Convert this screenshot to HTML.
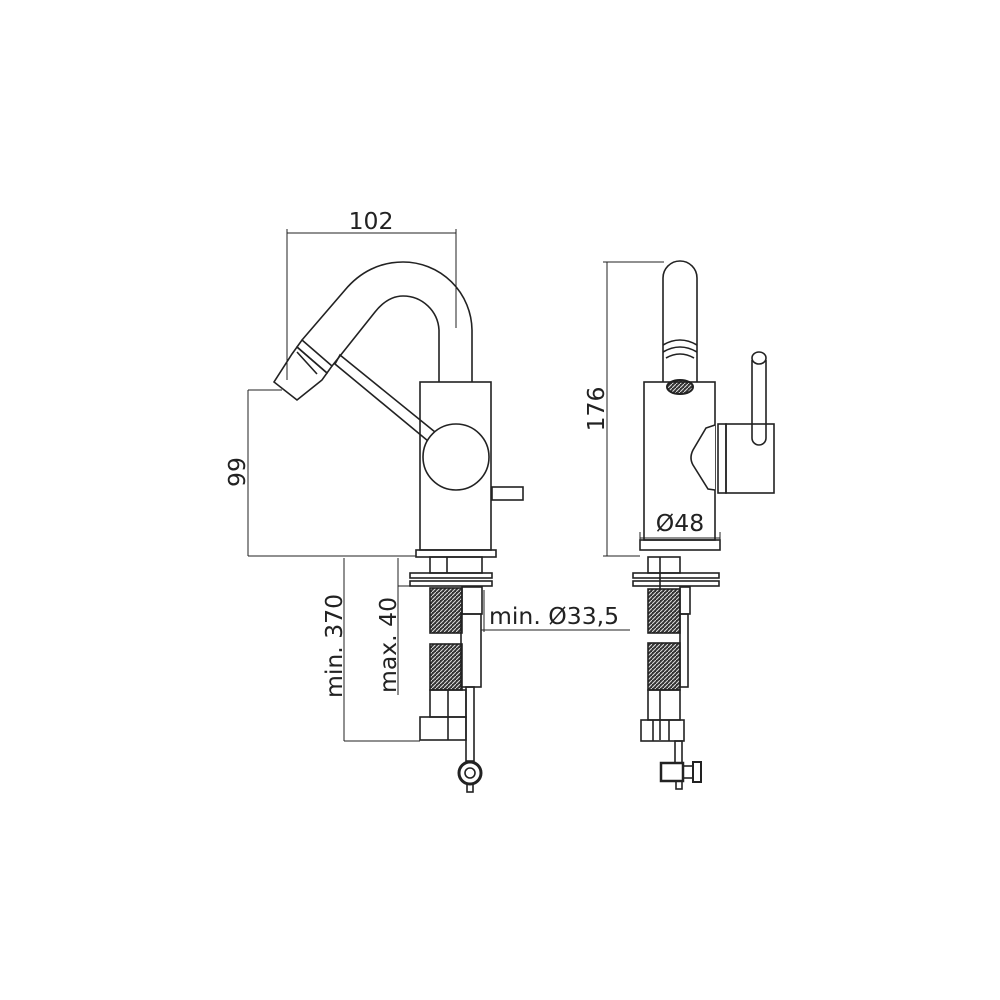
<!DOCTYPE html>
<html><head><meta charset="utf-8"><style>html,body{margin:0;padding:0;background:#fff}svg{display:block}</style></head><body>
<svg width="1000" height="1000" viewBox="0 0 1000 1000" xmlns="http://www.w3.org/2000/svg" font-family="'DejaVu Sans','Liberation Sans',sans-serif">
<defs>
<pattern id="h" width="4" height="4" patternUnits="userSpaceOnUse"><rect width="4" height="4" fill="#333"/><path d="M0 4L4 0" stroke="#ddd" stroke-width="1"/></pattern>
</defs>
<g fill="none" stroke="#222" stroke-width="1.6">
<line x1="287" y1="233" x2="456" y2="233" stroke-width="1"/>
<line x1="287" y1="229" x2="287" y2="380" stroke-width="1"/>
<line x1="456" y1="229" x2="456" y2="328" stroke-width="1"/>
<path d="M472 382 L472 330 A69 69 0 0 0 403 262 C380 262 360 272 345 290 L302 340"/>
<path d="M439 382 L439 330 A36 36 0 0 0 403 296 C392 296 383 302 375 312 L332 366"/>
<polygon points="302,340 332,366 327,373 297,347"/>
<polygon points="297,347 327,373 322,380 297,400 274,382 292,354"/>
<line x1="297" y1="352" x2="317" y2="374"/>
<polygon points="340,355 435,432 428,441 335,364"/>
<rect x="420" y="382" width="71" height="168"/>
<circle cx="456" cy="457" r="33" fill="#fff"/>
<rect x="492" y="487" width="31" height="13"/>
<rect x="416" y="550" width="80" height="7"/>
<line x1="248" y1="390" x2="248" y2="556" stroke-width="1"/>
<line x1="248" y1="390" x2="282" y2="390" stroke-width="1"/>
<line x1="248" y1="556" x2="416" y2="556" stroke-width="1"/>
<line x1="344" y1="558" x2="344" y2="741" stroke-width="1"/>
<line x1="344" y1="741" x2="420" y2="741" stroke-width="1"/>
<line x1="398" y1="558" x2="398" y2="695" stroke-width="1"/>
<line x1="398" y1="586" x2="412" y2="586" stroke-width="1"/>
<line x1="481" y1="630" x2="630" y2="630" stroke-width="1"/>
<line x1="484" y1="590" x2="484" y2="632" stroke-width="1"/>
<rect x="430" y="557" width="52" height="16"/>
<line x1="447" y1="557" x2="447" y2="573"/>
<rect x="410" y="573" width="82" height="5"/>
<rect x="410" y="581" width="82" height="5"/>
<rect x="430" y="588" width="32" height="45" fill="url(#h)"/>
<rect x="430" y="644" width="32" height="46" fill="url(#h)"/>
<rect x="462" y="587" width="20" height="27"/>
<rect x="461" y="614" width="20" height="73"/>
<rect x="430" y="690" width="36" height="27"/>
<line x1="448" y1="690" x2="448" y2="740"/>
<rect x="420" y="717" width="46" height="23"/>
<rect x="466" y="687" width="8" height="74"/>
<circle cx="470" cy="773" r="11" stroke-width="3"/>
<circle cx="470" cy="773" r="5"/>
<rect x="467" y="784" width="6" height="8"/>
<line x1="607" y1="262" x2="607" y2="556" stroke-width="1"/>
<line x1="603" y1="262" x2="664" y2="262" stroke-width="1"/>
<line x1="603" y1="556" x2="640" y2="556" stroke-width="1"/>
<path d="M663 382 L663 278 A17 17 0 0 1 697 278 L697 382"/>
<path d="M663 345 Q680 335 697 345 M663 352 Q680 342 697 352 M666 358 Q680 350 694 358"/>
<ellipse cx="680" cy="387" rx="13" ry="7" fill="url(#h)" stroke-width="2"/>
<rect x="644" y="382" width="71" height="158"/>
<path d="M715 425 L706 428 L693 450 Q689 458 693 465 L708 489 L715 490" fill="#fff"/>
<rect x="718" y="424" width="8" height="69"/>
<rect x="726" y="424" width="48" height="69"/>
<path d="M752 360 L752 438 A7 7 0 0 0 766 438 L766 360"/>
<ellipse cx="759" cy="358" rx="7" ry="6" fill="#fff"/>
<rect x="640" y="540" width="80" height="10"/>
<line x1="640" y1="538" x2="720" y2="538" stroke-width="1"/>
<line x1="640" y1="532" x2="640" y2="540" stroke-width="1"/>
<line x1="720" y1="532" x2="720" y2="540" stroke-width="1"/>
<rect x="648" y="557" width="32" height="16"/>
<line x1="660" y1="557" x2="660" y2="590"/>
<rect x="633" y="573" width="86" height="5"/>
<rect x="633" y="581" width="86" height="5"/>
<rect x="648" y="589" width="32" height="44" fill="url(#h)"/>
<rect x="648" y="643" width="32" height="47" fill="url(#h)"/>
<rect x="680" y="587" width="10" height="27"/>
<rect x="680" y="614" width="8" height="73"/>
<rect x="648" y="690" width="32" height="30"/>
<line x1="660" y1="690" x2="660" y2="740"/>
<rect x="641" y="720" width="43" height="21"/>
<line x1="653" y1="720" x2="653" y2="741"/><line x1="669" y1="720" x2="669" y2="741"/>
<rect x="675" y="741" width="7" height="22"/>
<rect x="661" y="763" width="22" height="18" stroke-width="2.5"/>
<rect x="683" y="766" width="10" height="12"/>
<rect x="693" y="762" width="8" height="20" stroke-width="2"/>
<rect x="676" y="781" width="6" height="8"/>
</g>
<g fill="#222" stroke="none">
<text x="371" y="229" font-size="23.5" text-anchor="middle">102</text>
<text transform="translate(245,472) rotate(-90)" font-size="23.5" text-anchor="middle">99</text>
<text transform="translate(604,409) rotate(-90)" font-size="23.5" text-anchor="middle">176</text>
<text x="680" y="531" font-size="23.5" text-anchor="middle">Ø48</text>
<text x="489" y="624" font-size="23.5">min. Ø33,5</text>
<text transform="translate(342,646) rotate(-90)" font-size="23.5" text-anchor="middle">min. 370</text>
<text transform="translate(396,645) rotate(-90)" font-size="23.5" text-anchor="middle">max. 40</text>
</g>
</svg>
</body></html>
